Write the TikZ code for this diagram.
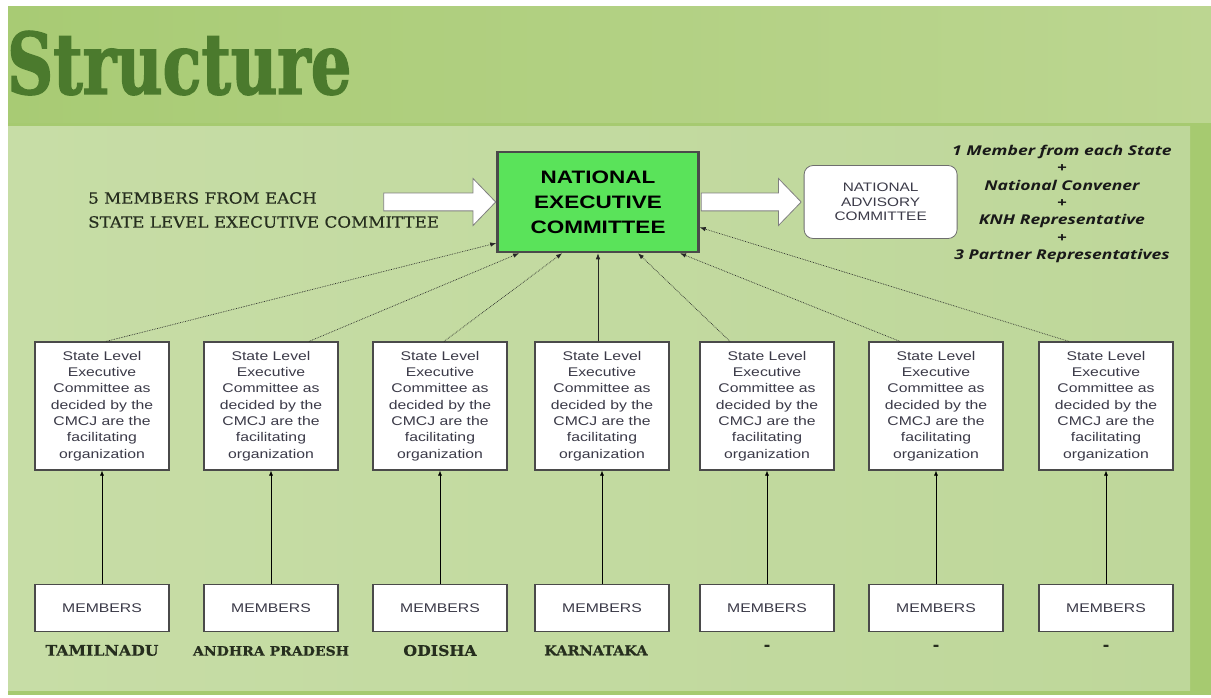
\documentclass[tikz,border=0pt]{standalone}
\usepackage{fontspec}
\setmainfont{Liberation Sans}
\newfontfamily\boxfont[FakeStretch=1.25]{Liberation Sans}
\newfontfamily\slabfont[FakeStretch=1.08, FakeBold=0.4]{DejaVu Serif}
\newfontfamily\titlefont[FakeStretch=0.75, FakeBold=1.6]{DejaVu Serif}
\newfontfamily\notefont[FakeStretch=1.3]{Open Sans}
\usetikzlibrary{arrows.meta,positioning,calc,shapes.arrows}
\definecolor{leafdark}{HTML}{A6CA70}
\definecolor{band1}{HTML}{A8CB74}
\definecolor{band2}{HTML}{BCD691}
\definecolor{panel1}{HTML}{C7DDA6}
\definecolor{panel2}{HTML}{BED79A}
\definecolor{necgreen}{HTML}{5AE35A}
\definecolor{rim}{HTML}{4A4A4A}
\definecolor{boxink}{HTML}{3B3A48}
\definecolor{slabink}{HTML}{262E1E}
\definecolor{titlegreen}{HTML}{4B7A2D}

\tikzset{
  stbox/.style={draw=rim, fill=white, line width=1.2pt, minimum width=134pt, minimum height=128pt, inner sep=0pt, align=center, text=boxink, font=\boxfont\fontsize{12.6}{16.3}\selectfont},
  membox/.style={draw=rim, fill=white, line width=1.2pt, minimum width=134pt, minimum height=47pt, inner sep=0pt, text=boxink, font=\boxfont\fontsize{12.6}{15}\selectfont},
  necbox/.style={draw=rim, fill=necgreen, line width=2.5pt, minimum width=201pt, minimum height=100pt, inner sep=0pt, align=center, text=black, font=\boxfont\bfseries\fontsize{18}{25}\selectfont},
  advbox/.style={draw=rim!80, fill=white, line width=0.8pt, rounded corners=9pt, minimum width=153pt, minimum height=73pt, inner sep=0pt, align=center, text=boxink, font=\boxfont\fontsize{12.3}{14.5}\selectfont},
  fatarrow/.style={single arrow, draw=rim!70, fill=white, line width=0.8pt, inner xsep=0pt, inner ysep=8.5pt, single arrow head extend=14.5pt, single arrow head indent=0pt, single arrow tip angle=92},
  statename/.style={text=slabink, inner sep=0pt, font=\slabfont\bfseries\fontsize{14.6}{14.6}\selectfont},
  uparrow/.style={draw=black, line width=0.6pt, -{Latex[length=5pt,width=4pt]}},
  dotarrow/.style={draw=black!85, line width=0.7pt, -{Latex[length=6pt,width=4.5pt]}}
}

\begin{document}
\begin{tikzpicture}[x=1pt,y=-1pt]
  \useasboundingbox (0,0) rectangle (1211,698);
  % backdrop: title band and the lighter panel
  \fill[white] (0,0) rectangle (1211,698);
  \fill[leafdark] (8,7) rectangle (1211,695);
  \shade[left color=band1, right color=band2] (8,7) rectangle (1211,123);
  \shade[left color=panel1, right color=panel2] (8,127) rectangle (1190,690);
  \node[anchor=base west, inner sep=0pt, text=titlegreen, font=\titlefont\bfseries\fontsize{85}{85}\selectfont] (title) at (7,94) {Structure};

  % national level
  \node[necbox] (nec) at (598,202) {NATIONAL\\EXECUTIVE\\COMMITTEE};
  \node[fatarrow, minimum height=112pt, left=0pt of nec] (inarr) {};
  \node[fatarrow, minimum height=100pt, right=1pt of nec] (outarr) {};
  \node[advbox, right=2pt of outarr] (adv) {NATIONAL\\ADVISORY\\COMMITTEE};
  \node[anchor=west, align=left, inner sep=0pt, text=slabink, font=\slabfont\fontsize{15.5}{24}\selectfont] (intext) at (88,210) {5 MEMBERS FROM EACH\\STATE LEVEL EXECUTIVE COMMITTEE};
  \node[align=center, inner sep=0pt, text=black!90, font=\notefont\bfseries\itshape\fontsize{13.5}{17.3}\selectfont] (advnote) at (1062,204) {1 Member from each State\\+\\National Convener\\+\\KNH Representative\\+\\3 Partner Representatives};

  % state committees, their members and the links upwards
  \foreach \i/\x/\dx/\ang/\ls in {1/102/4/202/densely dotted, 2/271/38/213/densely dotted, 3/440/4/235/densely dotted, 4/602/-4/270/solid, 5/767/-37/308/densely dotted, 6/936/-36/328/densely dotted, 7/1106/-37/346/densely dotted} {
    \node[stbox] (st\i) at (\x,406) {State Level\\Executive\\Committee as\\decided by the\\CMCJ are the\\facilitating\\organization};
    \node[membox, below=113pt of st\i] (mem\i) {MEMBERS};
    \draw[uparrow] (mem\i) -- (st\i);
    \draw[dotarrow, \ls] ($(st\i.north)+(\dx,0)$) -- (nec.\ang);
  }
  \foreach \i/\lab in {1/TAMILNADU, 3/ODISHA, 5/-, 6/-, 7/-} \node[statename, below=13pt of mem\i] (lab\i) {\lab};
  \node[statename, font=\slabfont\bfseries\fontsize{13}{13}\selectfont, below=14pt of mem2] (lab2) {ANDHRA PRADESH};
  \node[statename, font=\slabfont\bfseries\fontsize{13.4}{13.4}\selectfont, below=13.5pt of mem4, xshift=-6pt] (lab4) {KARNATAKA};
\end{tikzpicture}
\end{document}
